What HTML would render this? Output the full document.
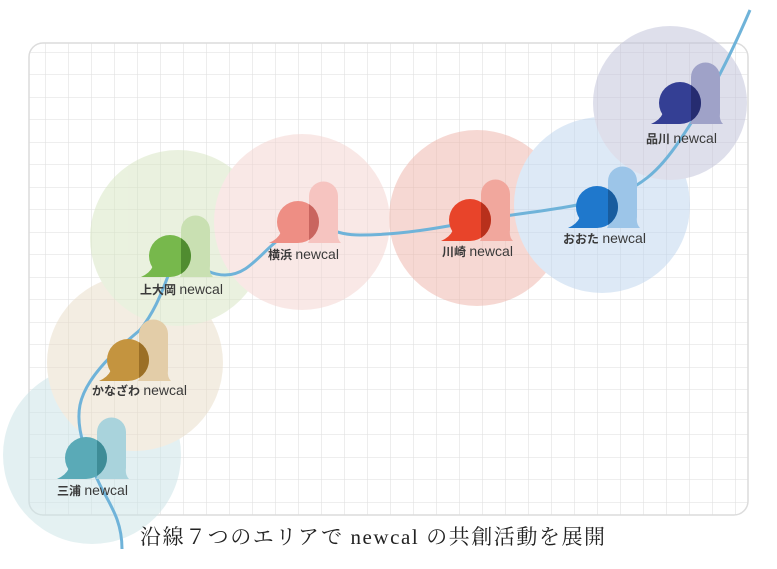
<!DOCTYPE html>
<html><head><meta charset="utf-8"><style>
html,body{margin:0;padding:0;background:#fff;width:777px;height:569px;overflow:hidden}
svg{display:block}
.lb{font-family:"Liberation Sans","Noto Sans CJK JP",sans-serif;font-size:12px;font-weight:bold;fill:#3a3a3a}
.lb tspan.n{font-size:14px;font-weight:normal}
.cap{font-family:"Liberation Serif","Noto Serif CJK JP",serif;font-size:21px;fill:#222}
</style></head><body>
<svg width="777" height="569" viewBox="0 0 777 569" xmlns="http://www.w3.org/2000/svg">
<defs>
<pattern id="g" x="22" y="7" width="23" height="22.5" patternUnits="userSpaceOnUse">
<path d="M0 0V22.5M0 0H23" stroke="#dedede" stroke-width="1.1" fill="none"/>
</pattern>
<clipPath id="bc"><circle cx="0" cy="0" r="21"/></clipPath>
<g id="ic">
<path d="M10 21 Q13 16 11 10 L11 -26 A14.5 14.5 0 0 1 40 -26 L40 10 Q39 17 43 21 Z" style="fill:var(--l)"/>
<circle cx="0" cy="0" r="21" style="fill:var(--m)"/>
<path d="M-17 10 Q-20 17 -29 21 L0 21 Z" style="fill:var(--m)"/>
<rect x="11" y="-30" width="30" height="60" clip-path="url(#bc)" style="fill:var(--d)"/>
</g>
</defs>
<rect x="29" y="43" width="719" height="472" rx="14" fill="url(#g)" stroke="#dcdcdc" stroke-width="1.5"/>
<g opacity="0.5">
<circle cx="92" cy="455" r="89" fill="#c9e3e6"/>
<circle cx="135" cy="363" r="88" fill="#e9dcc6"/>
<circle cx="178" cy="238" r="88" fill="#d6e5c0"/>
<circle cx="302" cy="222" r="88" fill="#f4d3cf"/>
<circle cx="477" cy="218" r="88" fill="#efb3a8"/>
<circle cx="602" cy="205" r="88" fill="#bcd4ee"/>
<circle cx="670" cy="103" r="77" fill="#bfc0d9"/>
</g>
<path d="M122 549 C122 520 110 505 100 485 C88 460 75 430 80 405 C85 380 110 355 140 330 C160 305 165 280 175 260 C185 250 200 275 225 275 C255 275 265 240 300 228 C325 222 330 235 360 235 C400 235 440 228 480 220 C520 213 560 210 600 200 C640 190 660 170 680 140 C700 110 720 80 750 10" fill="none" stroke="#6fb3d9" stroke-width="3"/>
<use href="#ic" x="86" y="458" style="--l:#a9d3dc;--m:#5aaab7;--d:#3e8c97"/>
<use href="#ic" x="128" y="360" style="--l:#e3cda8;--m:#c4943f;--d:#9b6f26"/>
<use href="#ic" x="170" y="256" style="--l:#c9e0b2;--m:#77b84c;--d:#508c30"/>
<use href="#ic" x="298" y="222" style="--l:#f6c4c0;--m:#ee8e84;--d:#c9655f"/>
<use href="#ic" x="470" y="220" style="--l:#f1a79d;--m:#e8442a;--d:#b8301c"/>
<use href="#ic" x="597" y="207" style="--l:#9cc5e8;--m:#1f78cc;--d:#185c9e"/>
<use href="#ic" x="680" y="103" style="--l:#9fa2c8;--m:#343f94;--d:#262c70"/>
<text class="lb" x="57" y="495">三浦 <tspan class="n">newcal</tspan></text>
<text class="lb" x="92" y="395">かなざわ <tspan class="n">newcal</tspan></text>
<text class="lb" x="140" y="294">上大岡 <tspan class="n">newcal</tspan></text>
<text class="lb" x="268" y="259">横浜 <tspan class="n">newcal</tspan></text>
<text class="lb" x="442" y="256">川崎 <tspan class="n">newcal</tspan></text>
<text class="lb" x="563" y="243">おおた <tspan class="n">newcal</tspan></text>
<text class="lb" x="646" y="143">品川 <tspan class="n">newcal</tspan></text>
<text class="cap" x="140" y="544" textLength="465" lengthAdjust="spacing">沿線７つのエリアで newcal の共創活動を展開</text>
</svg>
</body></html>
